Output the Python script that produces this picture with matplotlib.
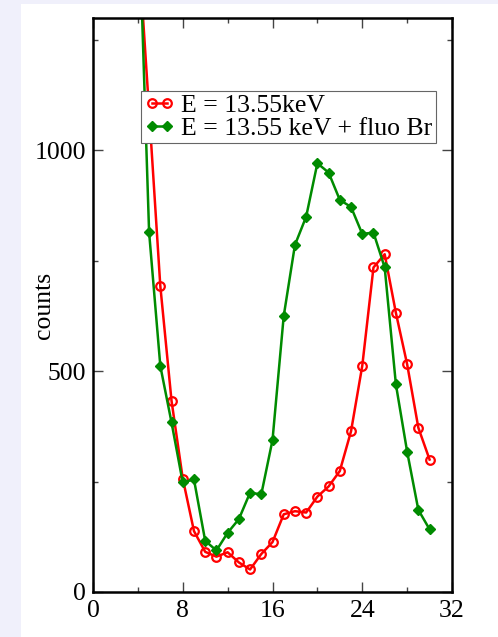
import matplotlib
matplotlib.use("Agg")
import matplotlib.pyplot as plt
from matplotlib.patches import Rectangle
from matplotlib.ticker import MultipleLocator

# Data
x_red = [4, 5, 6, 7, 8, 9, 10, 11, 12, 13, 14, 15, 16, 17, 18, 19, 20, 21, 22, 23, 24, 25, 26, 27, 28, 29, 30]
y_red = [1480, 1090, 693, 433, 257, 138, 91, 80, 90, 67, 51, 86, 113, 176, 183, 180, 216, 239, 274, 364, 512, 735, 765, 632, 516, 372, 300]
x_green = [4, 5, 6, 7, 8, 9, 10, 11, 12, 13, 14, 15, 16, 17, 18, 19, 20, 21, 22, 23, 24, 25, 26, 27, 28, 29, 30]
y_green = [1600, 815, 512, 384, 248, 255, 116, 94, 134, 165, 225, 221, 344, 625, 786, 850, 971, 950, 888, 872, 811, 814, 735, 470, 318, 186, 142]
label_red = "E = 13.55keV"
label_green = "E = 13.55 keV + fluo Br"
x_ticks = [0, 8, 16, 24, 32]
y_ticks = [0, 500, 1000]

plt.rcParams['font.family'] = ['Liberation Serif', 'DejaVu Serif']
plt.rcParams['mathtext.fontset'] = 'stix'

W, H = 498, 637
fig = plt.figure(figsize=(W / 100, H / 100), dpi=100)
fig.patch.set_facecolor('#f0f0fb')
fig.patches.append(Rectangle((21 / W, 0), 1 - 21 / W, (H - 4) / H, transform=fig.transFigure,
                             facecolor='white', edgecolor='none', zorder=-10))

ax = fig.add_axes([93 / W, (H - 592) / H, (452 - 93) / W, (592 - 18) / H])
ax.set_zorder(5)
ax.set_facecolor('white')

ax.plot(x_red, y_red, color='#ff0000', lw=1.8, marker='o', ms=6.2, mfc='none', mec='#ff0000',
        mew=1.6, label=label_red, clip_on=True)
ax.plot(x_green, y_green, color='#008b00', lw=1.8, marker='D', ms=5.4, mfc='#008b00', mec='#008b00',
        label=label_green, clip_on=True)

ax.set_xlim(0, 32)
ax.set_ylim(0, 1300)
ax.set_xticks(x_ticks)
ax.set_yticks(y_ticks)
ax.xaxis.set_minor_locator(MultipleLocator(4))
ax.yaxis.set_minor_locator(MultipleLocator(250))
ax.tick_params(which='both', direction='in', top=True, right=True, width=1.0, color='#444444')
ax.tick_params(which='major', length=7, labelsize=18.5, pad=6)
ax.tick_params(which='minor', length=3.5)
ax.tick_params(axis='y', which='major', pad=5)
for s in ax.spines.values():
    s.set_linewidth(1.8)
ax.set_ylabel('counts', fontsize=18.5)
ax.yaxis.set_label_coords((55 - 93) / 359, 0.5)

leg = ax.legend(loc='upper left', bbox_to_anchor=((141 - 93) / 359, (592 - 91) / 574),
                borderaxespad=0, fontsize=18.5, frameon=True, fancybox=False, framealpha=1,
                edgecolor='#666666', numpoints=2, handlelength=1.2, handletextpad=0.25,
                borderpad=0.12, labelspacing=0.0)
leg.get_frame().set_linewidth(0.8)

fig.savefig('out.png', dpi=100, facecolor=fig.get_facecolor())
